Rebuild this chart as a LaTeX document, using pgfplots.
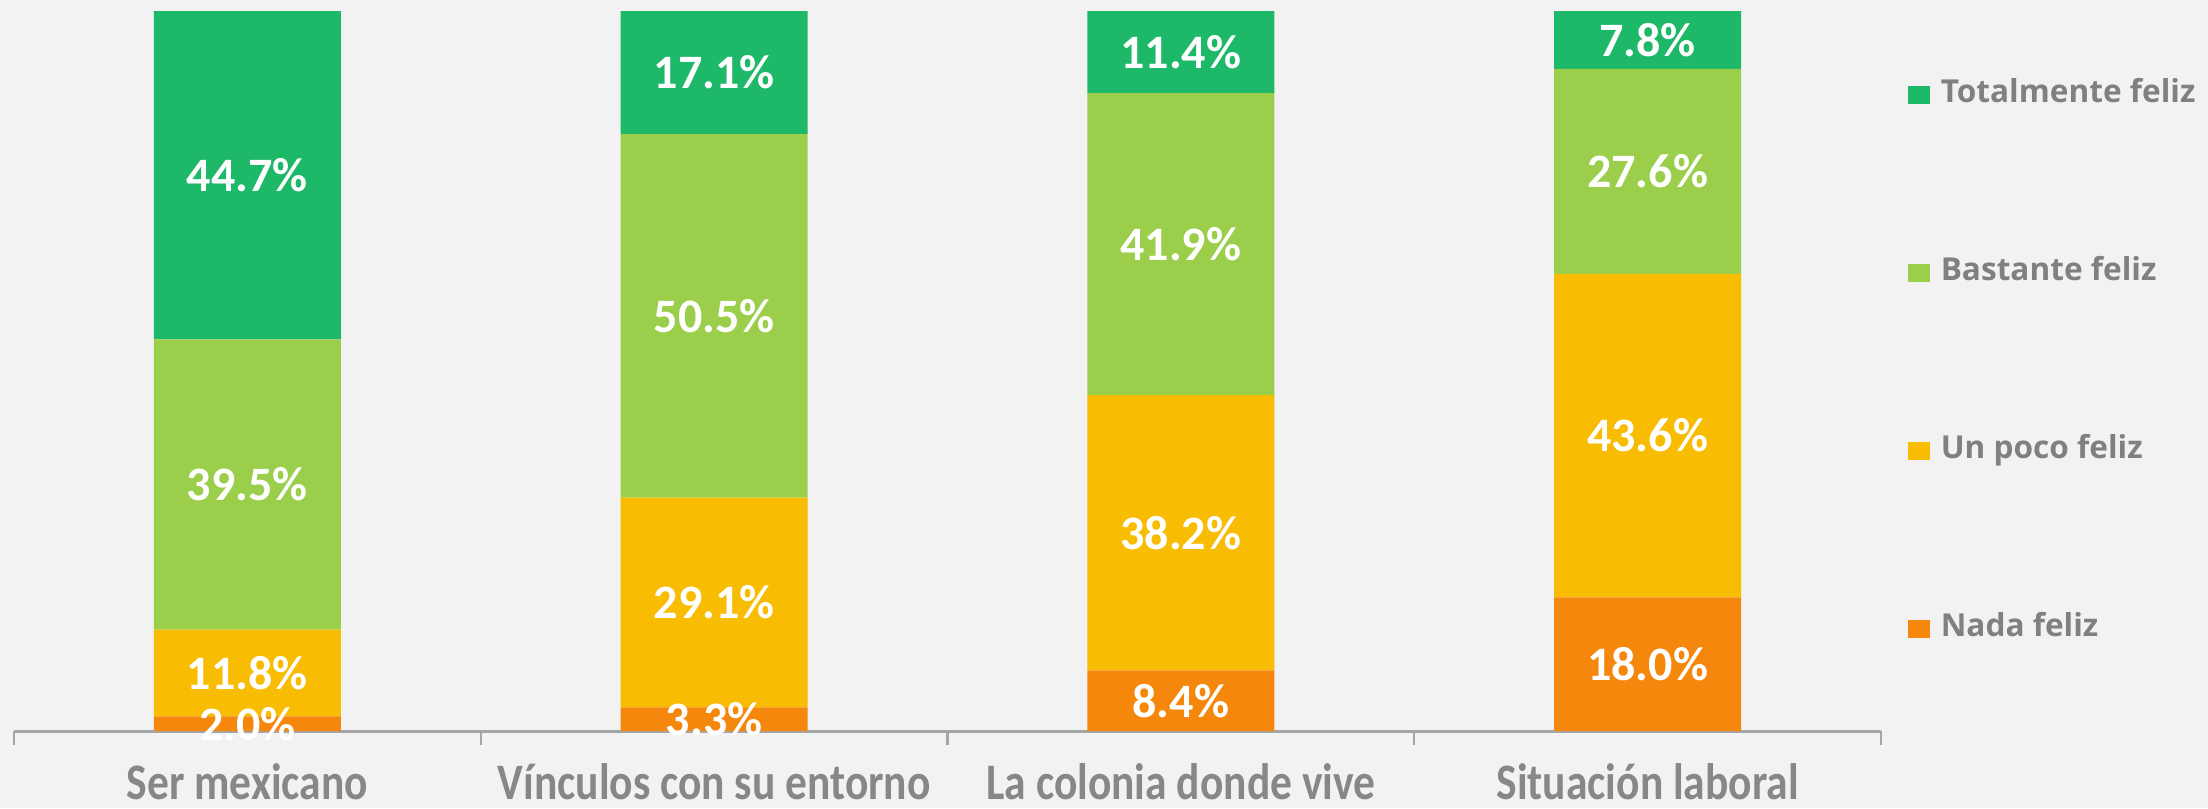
\documentclass[border=0pt]{standalone}
\usepackage{fontspec}
\setmainfont{Carlito}
\newfontfamily\catfont[FakeStretch=0.85]{Carlito}
\newfontfamily\legfont{Open Sans}
\usepackage{pgfplots}
\usepackage{pgfplotstable}
\pgfplotsset{compat=1.18}

\definecolor{bgc}{HTML}{F2F2F2}
\definecolor{ctotal}{HTML}{1DB868}
\definecolor{cbast}{HTML}{9BCF4B}
\definecolor{cpoco}{HTML}{F8BC02}
\definecolor{cnada}{HTML}{F5870C}
\definecolor{axgray}{HTML}{A5A5A5}
\definecolor{catgray}{HTML}{878787}
\definecolor{leggray}{HTML}{808080}

% y = share of the bar (bars are drawn to 100%), lab = printed value
\pgfplotstableread{
x y lab
0 2.041 2.0
1 3.3 3.3
2 8.408 8.4
3 18.557 18.0
}\nada
\pgfplotstableread{
x y lab
0 12.041 11.8
1 29.1 29.1
2 38.238 38.2
3 44.948 43.6
}\poco
\pgfplotstableread{
x y lab
0 40.306 39.5
1 50.5 50.5
2 41.942 41.9
3 28.454 27.6
}\bastante
\pgfplotstableread{
x y lab
0 45.612 44.7
1 17.1 17.1
2 11.411 11.4
3 8.041 7.8
}\total

\begin{document}
\begin{tikzpicture}
\fill[bgc] (-3.5pt,-19.25pt) rectangle (548.5pt,182.75pt);
\begin{axis}[
  scale only axis, width=466.75pt, height=180pt,
  ybar stacked, bar width=46.75pt,
  xmin=-0.5, xmax=3.5, ymin=0, ymax=100,
  enlargelimits=false, clip=false,
  axis x line*=bottom, axis y line=none,
  axis line style={draw=axgray, line width=0.75pt, -},
  xtick={0,1,2,3},
  xticklabels={Ser mexicano, Vínculos con su entorno, La colonia donde vive, Situación laboral},
  major tick length=0pt,
  minor xtick={-0.5,0.5,1.5,2.5,3.5},
  minor tick length=3.5pt,
  tick align=outside,
  minor tick style={draw=axgray, line width=0.6pt},
  xticklabel style={font=\catfont\bfseries\fontsize{12.8}{14}\selectfont, text=catgray, anchor=base, yshift=-17.2pt},
  ytick=\empty,
  point meta=explicit,
  nodes near coords={\pgfmathprintnumber[fixed, fixed zerofill, precision=1, assume math mode=true]{\pgfplotspointmeta}\%},
  every node near coord/.append style={font=\bfseries\fontsize{12}{13}\selectfont, text=white, anchor=center},
  legend image code/.code={\fill[#1] (0pt,-2.25pt) rectangle (5.5pt,2.25pt);},
  reverse legend,
  legend cell align=left,
  legend style={draw=none, fill=none, inner sep=0pt, at={(1.0139,0.905)}, anchor=north west,
    row sep=37pt, column sep=2.75pt,
    font=\legfont\bfseries\fontsize{7.9}{10}\selectfont, text=leggray,
    nodes={inner sep=0pt, text height=5.5pt, text depth=2pt}},
]
\addplot[fill=cnada, draw=none] table[x=x, y=y, meta=lab] {\nada};
\addlegendentry{Nada feliz}
\addplot[fill=cpoco, draw=none] table[x=x, y=y, meta=lab] {\poco};
\addlegendentry{Un poco feliz}
\addplot[fill=cbast, draw=none] table[x=x, y=y, meta=lab] {\bastante};
\addlegendentry{Bastante feliz}
\addplot[fill=ctotal, draw=none] table[x=x, y=y, meta=lab] {\total};
\addlegendentry{Totalmente feliz}
\end{axis}
\pgfresetboundingbox
\path (-3.5pt,-19.25pt) rectangle (548.5pt,182.75pt);
\end{tikzpicture}
\end{document}
